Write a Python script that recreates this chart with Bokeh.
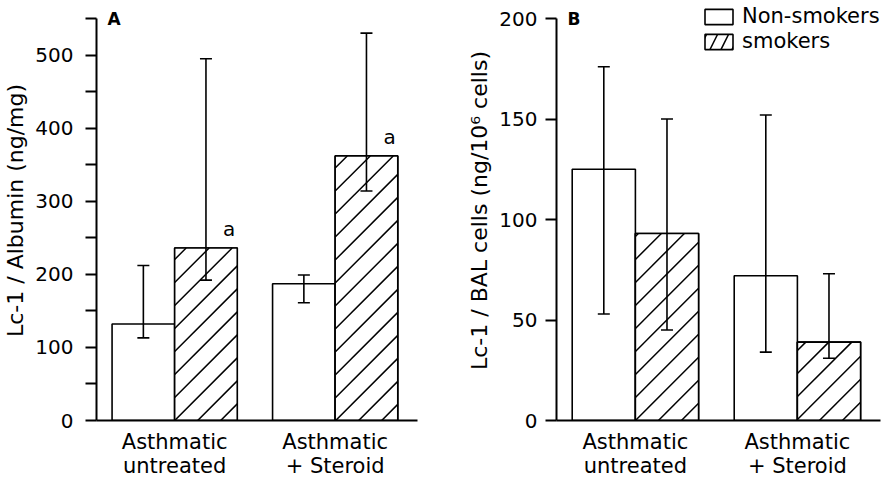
import math

from bokeh.plotting import figure
from bokeh.models import (ColumnDataSource, Range1d, FixedTicker, Whisker, TeeHead,
                          Label, LabelSet, Legend, LegendItem)
from bokeh.core.properties import value
from bokeh.layouts import row
from bokeh.embed import file_html
from bokeh.resources import INLINE

FONT = "DejaVu Sans"

# Groups on the x axis
groups = [0, 1]
group_labels = ["Asthmatic\nuntreated", "Asthmatic\n+ Steroid"]
series_names = ["Non-smokers", "smokers"]

# Panel A: Lc-1 / Albumin (ng/mg) - bar value with lower/upper error limits
alb_non = [132, 187]
alb_non_lo = [113, 161]
alb_non_hi = [212, 199]
alb_smk = [236, 362]
alb_smk_lo = [192, 314]
alb_smk_hi = [495, 530]
alb_smk_mark = ["a", "a"]

# Panel B: Lc-1 / BAL cells (ng/10^6 cells)
bal_non = [125, 72]
bal_non_lo = [53, 34]
bal_non_hi = [176, 152]
bal_smk = [93, 39]
bal_smk_lo = [45, 31]
bal_smk_hi = [150, 73]

# Axis ticks
alb_ticks = [0, 100, 200, 300, 400, 500]
alb_minor_ticks = [50, 150, 250, 350, 450, 550]
bal_ticks = [0, 50, 100, 150, 200]

BAR_W = 0.39
SHIFT = 0.195
LW = 1.6
X_START, X_END = -0.487, 1.513
FRAME_H = 420      # plot area height in px
AXIS_PX = 402      # length of the drawn y axis in px
HATCH_GAP = 23     # horizontal px between neighbouring hatch lines


def hatch_lines(xcs, tops, width, kx, ky, gap=HATCH_GAP):
    """45-degree hatch segments clipped to each bar (kx, ky: px per data unit)."""
    x0, y0, x1, y1 = [], [], [], []
    for xc, top in zip(xcs, tops):
        left, right, height = (xc - width / 2) * kx, (xc + width / 2) * kx, top * ky
        for n in range(math.ceil((left - height) / gap), math.floor(right / gap) + 1):
            c = n * gap                      # line: y = x - c (pixels)
            xa, xb = max(left, c), min(right, c + height)
            if xb - xa > 0.5:
                x0.append(xa / kx)
                y0.append((xa - c) / ky)
                x1.append(xb / kx)
                y1.append((xb - c) / ky)
    return dict(x0=x0, y0=y0, x1=x1, y1=y1)


def make_panel(non, non_lo, non_hi, smk, smk_lo, smk_hi, y_top, ticks, minor,
               ylabel, letter, frame_w, border_l, border_r, tick_standoff):
    # the y axis line stops at y_top; the frame keeps a little head room above it
    y_end = y_top * FRAME_H / AXIS_PX
    p = figure(frame_width=frame_w, frame_height=FRAME_H,
               min_border_left=border_l, min_border_right=border_r,
               min_border_top=0, min_border_bottom=60,
               x_range=Range1d(X_START, X_END), y_range=Range1d(0, y_end),
               output_backend="svg", toolbar_location=None)
    p.background_fill_color = "white"
    p.border_fill_color = "white"
    p.outline_line_color = None
    p.grid.visible = False

    x_non = [g - SHIFT for g in groups]
    x_smk = [g + SHIFT for g in groups]

    r_non = p.vbar(x=x_non, top=non, width=BAR_W, bottom=0,
                   fill_color="white", line_color="black", line_width=LW)

    # smokers: a hatched renderer that provides the legend swatch, covered by
    # white bars that carry the 45-degree hatch lines drawn below
    r_smk_key = p.vbar(x=x_smk, top=smk, width=BAR_W, bottom=0,
                       fill_color="white", line_color="black", line_width=LW,
                       hatch_pattern="/", hatch_color="black", hatch_weight=1.5,
                       hatch_scale=22)
    p.vbar(x=x_smk, top=smk, width=BAR_W, bottom=0,
           fill_color="white", line_color="black", line_width=LW)

    kx = frame_w / (X_END - X_START)
    ky = FRAME_H / y_end
    p.segment(x0="x0", y0="y0", x1="x1", y1="y1",
              source=ColumnDataSource(hatch_lines(x_smk, smk, BAR_W, kx, ky)),
              line_color="black", line_width=1.5)

    for xs, lo, hi in ((x_non, non_lo, non_hi), (x_smk, smk_lo, smk_hi)):
        src = ColumnDataSource(dict(x=xs, lo=lo, hi=hi))
        w = Whisker(base="x", lower="lo", upper="hi", source=src,
                    line_color="black", line_width=LW,
                    upper_head=TeeHead(size=12, line_width=LW, line_color="black"),
                    lower_head=TeeHead(size=12, line_width=LW, line_color="black"))
        w.level = "overlay"
        p.add_layout(w)

    # y axis
    yax = p.yaxis[0]
    yax.bounds = (0, y_top)
    yax.ticker = FixedTicker(ticks=ticks, minor_ticks=minor)
    yax.axis_line_width = 2
    yax.major_tick_line_width = 2
    yax.minor_tick_line_width = 2
    yax.major_tick_out = 11
    yax.major_tick_in = 0
    yax.minor_tick_out = 11 if minor else 0
    yax.minor_tick_in = 0
    yax.major_label_standoff = tick_standoff
    yax.major_label_text_font = FONT
    yax.major_label_text_font_size = "20px"
    yax.major_label_text_color = "black"
    yax.axis_label = ylabel
    yax.axis_label_text_font = FONT
    yax.axis_label_text_font_size = "22px"
    yax.axis_label_text_font_style = "normal"
    yax.axis_label_text_color = "black"
    yax.axis_label_standoff = 4

    # x axis
    xax = p.xaxis[0]
    xax.ticker = FixedTicker(ticks=groups, minor_ticks=[])
    xax.major_label_overrides = {g: lab for g, lab in zip(groups, group_labels)}
    xax.axis_line_width = 2
    xax.major_tick_line_color = None
    xax.minor_tick_line_color = None
    xax.major_label_standoff = 3
    xax.major_label_text_font = FONT
    xax.major_label_text_font_size = "21px"
    xax.major_label_text_line_height = 1.0
    xax.major_label_text_color = "black"

    p.add_layout(Label(x=p.x_range.start, y=y_top, x_offset=11, text=letter,
                       text_font=FONT, text_font_style="bold", text_font_size="17px",
                       text_baseline="middle", text_color="black"))
    return p, r_non, r_smk_key


pa, a_non, a_smk = make_panel(alb_non, alb_non_lo, alb_non_hi, alb_smk, alb_smk_lo,
                              alb_smk_hi, 550, alb_ticks, alb_minor_ticks,
                              "Lc-1 / Albumin (ng/mg)", "A", 321, 96, 23, 12)

# significance marks over the smoker bars of panel A
mark_src = ColumnDataSource(dict(x=[g + SHIFT + BAR_W / 2 for g in groups],
                                 y=alb_smk, t=alb_smk_mark))
pa.add_layout(LabelSet(x="x", y="y", text="t", source=mark_src, text_align="right",
                       text_baseline="bottom", y_offset=7, x_offset=-2,
                       text_font=value(FONT), text_font_size=value("20px"),
                       text_color="black"))

pb, b_non, b_smk = make_panel(bal_non, bal_non_lo, bal_non_hi, bal_smk, bal_smk_lo,
                              bal_smk_hi, 200, bal_ticks, [],
                              "Lc-1 / BAL cells (ng/10\u2076 cells)", "B", 324, 116, 8, 8)

legend = Legend(items=[LegendItem(label=series_names[0], renderers=[b_non]),
                       LegendItem(label=series_names[1], renderers=[b_smk])],
                location=(145, 367), orientation="vertical",
                border_line_color=None, background_fill_alpha=0,
                padding=0, margin=0, spacing=1,
                glyph_width=35, glyph_height=19, label_standoff=6,
                label_height=20, label_text_font=FONT, label_text_font_size="21px",
                label_text_color="black")
pb.add_layout(legend)

layout = row(pa, pb, spacing=0)

open("out.html", "w").write(file_html(layout, INLINE))
